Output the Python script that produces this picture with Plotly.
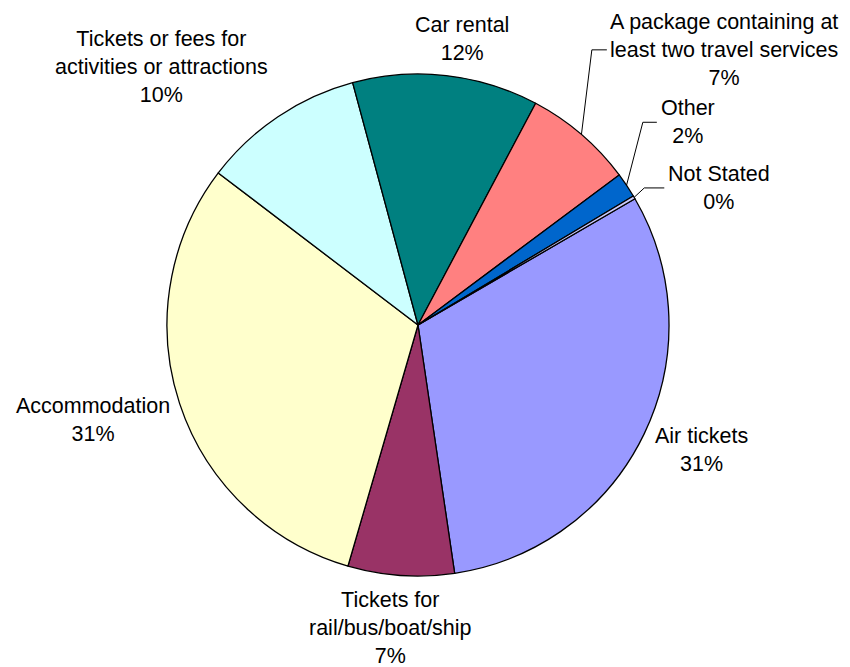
import math
import plotly.graph_objects as go

# ---------------- data ----------------
labels = [
    "Air tickets",
    "Tickets for<br>rail/bus/boat/ship",
    "Accommodation",
    "Tickets or fees for<br>activities or attractions",
    "Car rental",
    "A package containing at<br>least two travel services",
    "Other",
    "Not Stated",
]
values = [30.9, 6.8, 30.7, 10.4, 11.9, 7.0, 1.6, 0.2]
colors = ["#9999FF", "#993366", "#FFFFCC", "#CCFFFF", "#008080", "#FF8080", "#0066CC", "#CCCCFF"]

# ---------------- layout constants ----------------
W, H = 850, 667
PAGE_OFF = 8                       # default page body margin
CX, CY, R = 418, 325, 251          # pie centre / radius in window pixels
ROTATION = 59.8                    # start angle (deg, clockwise from 12 o'clock)

# label placement: (angle nudge from slice mid-angle in deg, distance from centre in px)
label_place = [(-1.9, 310), (1.2, 304), (2.0, 339), (-10.9, 363.5),
               (2.3, 289), (7.4, 411.4), (-3.1, 337.5), (6.1, 331)]
# leader lines: index -> (x offset of line end from label centre, horizontal segment length)
leaders = {5: (-117, 15), 6: (-31, 14), 7: (-55, 20)}


def px(x):
    return (x - PAGE_OFF) / W


def py(y):
    return 1 - (y - PAGE_OFF) / H


fig = go.Figure(go.Pie(
    labels=[l.replace("<br>", " ") for l in labels],
    values=values,
    sort=False,
    direction="clockwise",
    rotation=ROTATION,
    marker=dict(colors=colors, line=dict(color="black", width=1.3)),
    textinfo="none",
    hoverinfo="label+percent",
    showlegend=False,
    domain=dict(x=[px(CX - R), px(CX + R)], y=[py(CY + R), py(CY - R)]),
))

total = sum(values)
annotations = []
shapes = []
cum = 0.0
for i, (lab, v) in enumerate(zip(labels, values)):
    mid = ROTATION + (cum + v / 2) / total * 360
    cum += v
    dang, dist = label_place[i]
    a = math.radians(mid + dang)
    lx = CX + dist * math.sin(a)
    ly = CY - dist * math.cos(a)
    pct = round(v / total * 100)
    annotations.append(dict(
        x=px(lx), y=py(ly), xref="paper", yref="paper",
        text=f"{lab}<br>{pct}%", showarrow=False,
        xanchor="center", yanchor="middle", align="center",
        font=dict(family="Liberation Sans, Arial, sans-serif", size=21.5, color="black"),
    ))
    if i in leaders:
        off, seg = leaders[i]
        m = math.radians(mid)
        rx = CX + R * math.sin(m)
        ry = CY - R * math.cos(m)
        ex = lx + off
        bx = ex - seg
        shapes.append(dict(
            type="path", xref="paper", yref="paper",
            path=f"M {px(rx)},{py(ry)} L {px(bx)},{py(ly)} L {px(ex)},{py(ly)}",
            line=dict(color="black", width=1),
        ))

fig.update_layout(
    width=W, height=H,
    margin=dict(l=0, r=0, t=0, b=0),
    paper_bgcolor="white", plot_bgcolor="white",
    annotations=annotations, shapes=shapes,
)

fig.write_html("out.html")
